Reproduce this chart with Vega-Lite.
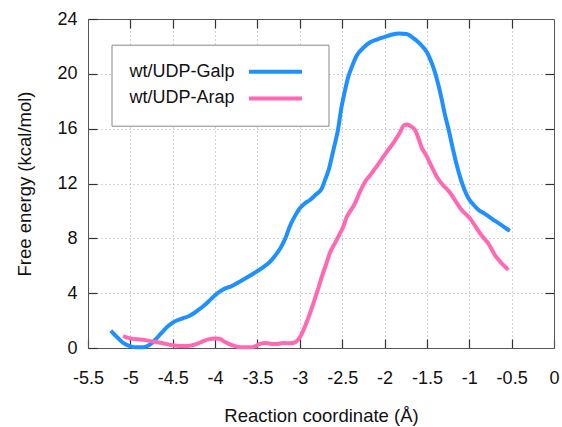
{
  "$schema": "https://vega.github.io/schema/vega-lite/v6.json",
  "width": 466,
  "height": 329,
  "autosize": {"type": "none"},
  "padding": {"left": 88, "top": 19, "right": 8, "bottom": 79},
  "background": "white",
  "config": {
    "view": {"stroke": null},
    "font": "Liberation Sans",
    "axis": {
      "domainColor": "#555",
      "domainWidth": 1,
      "tickColor": "#333",
      "tickWidth": 1.2,
      "labelFont": "Liberation Sans",
      "labelFontSize": 18,
      "labelColor": "#111",
      "titleFont": "Liberation Sans",
      "titleFontSize": 18.5,
      "titleFontWeight": "normal",
      "titleColor": "#111",
      "gridColor": "#a8a8a8",
      "gridDash": [1, 3],
      "gridWidth": 1,
      "labelFlush": false,
      "labelOverlap": false
    }
  },
  "data": {
    "values": [
      {"series": "wt/UDP-Galp", "x": -5.23, "y": 1.26},
      {"series": "wt/UDP-Galp", "x": -5.15, "y": 0.75},
      {"series": "wt/UDP-Galp", "x": -5.08, "y": 0.35},
      {"series": "wt/UDP-Galp", "x": -5.0, "y": 0.12},
      {"series": "wt/UDP-Galp", "x": -4.93, "y": 0.05},
      {"series": "wt/UDP-Galp", "x": -4.85, "y": 0.06},
      {"series": "wt/UDP-Galp", "x": -4.78, "y": 0.2},
      {"series": "wt/UDP-Galp", "x": -4.71, "y": 0.58},
      {"series": "wt/UDP-Galp", "x": -4.64, "y": 1.05},
      {"series": "wt/UDP-Galp", "x": -4.56, "y": 1.56},
      {"series": "wt/UDP-Galp", "x": -4.5, "y": 1.85},
      {"series": "wt/UDP-Galp", "x": -4.44, "y": 2.04},
      {"series": "wt/UDP-Galp", "x": -4.38, "y": 2.17},
      {"series": "wt/UDP-Galp", "x": -4.32, "y": 2.3},
      {"series": "wt/UDP-Galp", "x": -4.26, "y": 2.5},
      {"series": "wt/UDP-Galp", "x": -4.2, "y": 2.77},
      {"series": "wt/UDP-Galp", "x": -4.14, "y": 3.05},
      {"series": "wt/UDP-Galp", "x": -4.08, "y": 3.38},
      {"series": "wt/UDP-Galp", "x": -4.01, "y": 3.8},
      {"series": "wt/UDP-Galp", "x": -3.95, "y": 4.1},
      {"series": "wt/UDP-Galp", "x": -3.88, "y": 4.35},
      {"series": "wt/UDP-Galp", "x": -3.81, "y": 4.5},
      {"series": "wt/UDP-Galp", "x": -3.71, "y": 4.84},
      {"series": "wt/UDP-Galp", "x": -3.61, "y": 5.2},
      {"series": "wt/UDP-Galp", "x": -3.51, "y": 5.57},
      {"series": "wt/UDP-Galp", "x": -3.43, "y": 5.9},
      {"series": "wt/UDP-Galp", "x": -3.35, "y": 6.3},
      {"series": "wt/UDP-Galp", "x": -3.29, "y": 6.75},
      {"series": "wt/UDP-Galp", "x": -3.23, "y": 7.27},
      {"series": "wt/UDP-Galp", "x": -3.17, "y": 8.0},
      {"series": "wt/UDP-Galp", "x": -3.12, "y": 8.85},
      {"series": "wt/UDP-Galp", "x": -3.06, "y": 9.6},
      {"series": "wt/UDP-Galp", "x": -3.0, "y": 10.19},
      {"series": "wt/UDP-Galp", "x": -2.94, "y": 10.55},
      {"series": "wt/UDP-Galp", "x": -2.88, "y": 10.8},
      {"series": "wt/UDP-Galp", "x": -2.81, "y": 11.2},
      {"series": "wt/UDP-Galp", "x": -2.74, "y": 11.65},
      {"series": "wt/UDP-Galp", "x": -2.7, "y": 12.3},
      {"series": "wt/UDP-Galp", "x": -2.66, "y": 12.98},
      {"series": "wt/UDP-Galp", "x": -2.62, "y": 14.0},
      {"series": "wt/UDP-Galp", "x": -2.585, "y": 14.93},
      {"series": "wt/UDP-Galp", "x": -2.55, "y": 15.9},
      {"series": "wt/UDP-Galp", "x": -2.51, "y": 17.5},
      {"series": "wt/UDP-Galp", "x": -2.47, "y": 18.7},
      {"series": "wt/UDP-Galp", "x": -2.43, "y": 19.74},
      {"series": "wt/UDP-Galp", "x": -2.38, "y": 20.6},
      {"series": "wt/UDP-Galp", "x": -2.33, "y": 21.32},
      {"series": "wt/UDP-Galp", "x": -2.25, "y": 21.9},
      {"series": "wt/UDP-Galp", "x": -2.17, "y": 22.3},
      {"series": "wt/UDP-Galp", "x": -2.09, "y": 22.5},
      {"series": "wt/UDP-Galp", "x": -2.015, "y": 22.66},
      {"series": "wt/UDP-Galp", "x": -1.92, "y": 22.85},
      {"series": "wt/UDP-Galp", "x": -1.83, "y": 22.95},
      {"series": "wt/UDP-Galp", "x": -1.74, "y": 22.9},
      {"series": "wt/UDP-Galp", "x": -1.68, "y": 22.7},
      {"series": "wt/UDP-Galp", "x": -1.62, "y": 22.41},
      {"series": "wt/UDP-Galp", "x": -1.56, "y": 22.05},
      {"series": "wt/UDP-Galp", "x": -1.5, "y": 21.57},
      {"series": "wt/UDP-Galp", "x": -1.45, "y": 20.9},
      {"series": "wt/UDP-Galp", "x": -1.405, "y": 20.11},
      {"series": "wt/UDP-Galp", "x": -1.365, "y": 19.2},
      {"series": "wt/UDP-Galp", "x": -1.326, "y": 18.16},
      {"series": "wt/UDP-Galp", "x": -1.29, "y": 17.1},
      {"series": "wt/UDP-Galp", "x": -1.248, "y": 16.05},
      {"series": "wt/UDP-Galp", "x": -1.19, "y": 14.44},
      {"series": "wt/UDP-Galp", "x": -1.15, "y": 13.4},
      {"series": "wt/UDP-Galp", "x": -1.11, "y": 12.5},
      {"series": "wt/UDP-Galp", "x": -1.06, "y": 11.6},
      {"series": "wt/UDP-Galp", "x": -1.01, "y": 10.92},
      {"series": "wt/UDP-Galp", "x": -0.95, "y": 10.45},
      {"series": "wt/UDP-Galp", "x": -0.89, "y": 10.07},
      {"series": "wt/UDP-Galp", "x": -0.82, "y": 9.8},
      {"series": "wt/UDP-Galp", "x": -0.756, "y": 9.53},
      {"series": "wt/UDP-Galp", "x": -0.69, "y": 9.25},
      {"series": "wt/UDP-Galp", "x": -0.62, "y": 8.97},
      {"series": "wt/UDP-Galp", "x": -0.56, "y": 8.7},
      {"series": "wt/UDP-Galp", "x": -0.52, "y": 8.56},
      {"series": "wt/UDP-Arap", "x": -5.087, "y": 0.875},
      {"series": "wt/UDP-Arap", "x": -5.0, "y": 0.7},
      {"series": "wt/UDP-Arap", "x": -4.91, "y": 0.63},
      {"series": "wt/UDP-Arap", "x": -4.85, "y": 0.6},
      {"series": "wt/UDP-Arap", "x": -4.78, "y": 0.52},
      {"series": "wt/UDP-Arap", "x": -4.71, "y": 0.46},
      {"series": "wt/UDP-Arap", "x": -4.62, "y": 0.35},
      {"series": "wt/UDP-Arap", "x": -4.52, "y": 0.22},
      {"series": "wt/UDP-Arap", "x": -4.42, "y": 0.15},
      {"series": "wt/UDP-Arap", "x": -4.32, "y": 0.15},
      {"series": "wt/UDP-Arap", "x": -4.26, "y": 0.22},
      {"series": "wt/UDP-Arap", "x": -4.2, "y": 0.34},
      {"series": "wt/UDP-Arap", "x": -4.14, "y": 0.5},
      {"series": "wt/UDP-Arap", "x": -4.08, "y": 0.63},
      {"series": "wt/UDP-Arap", "x": -4.0, "y": 0.7},
      {"series": "wt/UDP-Arap", "x": -3.95, "y": 0.68},
      {"series": "wt/UDP-Arap", "x": -3.9, "y": 0.5},
      {"series": "wt/UDP-Arap", "x": -3.85, "y": 0.34},
      {"series": "wt/UDP-Arap", "x": -3.77, "y": 0.15},
      {"series": "wt/UDP-Arap", "x": -3.69, "y": 0.05},
      {"series": "wt/UDP-Arap", "x": -3.6, "y": 0.05},
      {"series": "wt/UDP-Arap", "x": -3.53, "y": 0.12},
      {"series": "wt/UDP-Arap", "x": -3.47, "y": 0.3},
      {"series": "wt/UDP-Arap", "x": -3.4, "y": 0.36},
      {"series": "wt/UDP-Arap", "x": -3.33, "y": 0.3},
      {"series": "wt/UDP-Arap", "x": -3.27, "y": 0.29},
      {"series": "wt/UDP-Arap", "x": -3.2, "y": 0.36},
      {"series": "wt/UDP-Arap", "x": -3.12, "y": 0.34},
      {"series": "wt/UDP-Arap", "x": -3.06, "y": 0.4},
      {"series": "wt/UDP-Arap", "x": -3.02, "y": 0.6},
      {"series": "wt/UDP-Arap", "x": -2.98, "y": 1.0},
      {"series": "wt/UDP-Arap", "x": -2.94, "y": 1.56},
      {"series": "wt/UDP-Arap", "x": -2.89, "y": 2.35},
      {"series": "wt/UDP-Arap", "x": -2.84, "y": 3.26},
      {"series": "wt/UDP-Arap", "x": -2.79, "y": 4.2},
      {"series": "wt/UDP-Arap", "x": -2.74, "y": 5.2},
      {"series": "wt/UDP-Arap", "x": -2.69, "y": 6.1},
      {"series": "wt/UDP-Arap", "x": -2.644, "y": 6.95},
      {"series": "wt/UDP-Arap", "x": -2.58, "y": 7.7},
      {"series": "wt/UDP-Arap", "x": -2.526, "y": 8.36},
      {"series": "wt/UDP-Arap", "x": -2.487, "y": 8.85},
      {"series": "wt/UDP-Arap", "x": -2.45, "y": 9.5},
      {"series": "wt/UDP-Arap", "x": -2.408, "y": 9.95},
      {"series": "wt/UDP-Arap", "x": -2.35, "y": 10.55},
      {"series": "wt/UDP-Arap", "x": -2.29, "y": 11.4},
      {"series": "wt/UDP-Arap", "x": -2.23, "y": 12.13},
      {"series": "wt/UDP-Arap", "x": -2.17, "y": 12.6},
      {"series": "wt/UDP-Arap", "x": -2.11, "y": 13.1},
      {"series": "wt/UDP-Arap", "x": -2.054, "y": 13.6},
      {"series": "wt/UDP-Arap", "x": -1.98, "y": 14.25},
      {"series": "wt/UDP-Arap", "x": -1.897, "y": 14.95},
      {"series": "wt/UDP-Arap", "x": -1.82, "y": 15.7},
      {"series": "wt/UDP-Arap", "x": -1.77, "y": 16.25},
      {"series": "wt/UDP-Arap", "x": -1.73, "y": 16.3},
      {"series": "wt/UDP-Arap", "x": -1.7, "y": 16.2},
      {"series": "wt/UDP-Arap", "x": -1.641, "y": 15.9},
      {"series": "wt/UDP-Arap", "x": -1.6, "y": 15.3},
      {"series": "wt/UDP-Arap", "x": -1.56, "y": 14.6},
      {"series": "wt/UDP-Arap", "x": -1.503, "y": 14.0},
      {"series": "wt/UDP-Arap", "x": -1.45, "y": 13.3},
      {"series": "wt/UDP-Arap", "x": -1.405, "y": 12.74},
      {"series": "wt/UDP-Arap", "x": -1.366, "y": 12.33},
      {"series": "wt/UDP-Arap", "x": -1.307, "y": 11.85},
      {"series": "wt/UDP-Arap", "x": -1.25, "y": 11.5},
      {"series": "wt/UDP-Arap", "x": -1.208, "y": 11.16},
      {"series": "wt/UDP-Arap", "x": -1.15, "y": 10.6},
      {"series": "wt/UDP-Arap", "x": -1.09, "y": 10.07},
      {"series": "wt/UDP-Arap", "x": -1.03, "y": 9.7},
      {"series": "wt/UDP-Arap", "x": -0.992, "y": 9.46},
      {"series": "wt/UDP-Arap", "x": -0.93, "y": 8.9},
      {"series": "wt/UDP-Arap", "x": -0.874, "y": 8.37},
      {"series": "wt/UDP-Arap", "x": -0.82, "y": 7.95},
      {"series": "wt/UDP-Arap", "x": -0.776, "y": 7.64},
      {"series": "wt/UDP-Arap", "x": -0.735, "y": 7.2},
      {"series": "wt/UDP-Arap", "x": -0.697, "y": 6.78},
      {"series": "wt/UDP-Arap", "x": -0.655, "y": 6.45},
      {"series": "wt/UDP-Arap", "x": -0.618, "y": 6.18},
      {"series": "wt/UDP-Arap", "x": -0.58, "y": 5.95},
      {"series": "wt/UDP-Arap", "x": -0.54, "y": 5.69}
    ]
  },
  "layer": [
    {
      "mark": {"type": "line", "opacity": 0},
      "encoding": {
        "x": {
          "field": "x", "type": "quantitative",
          "scale": {"domain": [-5.5, 0], "nice": false, "zero": false},
          "axis": {"orient": "top", "values": [-5, -4.5, -4, -3.5, -3, -2.5, -2, -1.5, -1, -0.5], "grid": true, "labels": false, "title": null, "tickSize": -9}
        },
        "y": {
          "field": "y", "type": "quantitative",
          "scale": {"domain": [0, 24], "nice": false, "zero": false},
          "axis": {"orient": "right", "values": [4, 8, 12, 16, 20], "grid": true, "labels": false, "title": null, "tickSize": -9}
        },
        "detail": {"field": "series", "type": "nominal"}
      }
    },
    {
      "mark": {"type": "line", "strokeWidth": 4, "interpolate": "monotone"},
      "encoding": {
        "x": {
          "field": "x", "type": "quantitative",
          "axis": {"orient": "bottom", "values": [-5.5, -5, -4.5, -4, -3.5, -3, -2.5, -2, -1.5, -1, -0.5, 0], "grid": false, "tickSize": -9, "labelPadding": 30, "labelExpr": "toString(datum.value)", "title": "Reaction coordinate (Å)", "titleY": 73.5, "titleBaseline": "alphabetic"}
        },
        "y": {
          "field": "y", "type": "quantitative",
          "axis": {"orient": "left", "values": [0, 4, 8, 12, 16, 20, 24], "grid": false, "tickSize": -9, "labelPadding": 20, "title": "Free energy (kcal/mol)", "titleX": -58, "titleBaseline": "alphabetic"}
        },
        "color": {
          "field": "series", "type": "nominal",
          "scale": {"domain": ["wt/UDP-Galp", "wt/UDP-Arap"], "range": ["#1E90FF", "#FF69B4"]},
          "legend": {
            "orient": "none", "legendX": 23.5, "legendY": 25.7, "title": null,
            "symbolType": "M-10,0H10", "symbolSize": 28.09, "symbolStrokeWidth": 4,
            "labelFontSize": 18, "labelColor": "#111", "labelFont": "Liberation Sans", "labelLimit": 300,
            "strokeColor": "#888", "fillColor": "white", "padding": 18, "rowPadding": 8.7, "columnPadding": 0,
            "symbolOffset": 137, "labelOffset": -155
          }
        }
      }
    }
  ],
  "resolve": {"axis": {"x": "independent", "y": "independent"}}
}
